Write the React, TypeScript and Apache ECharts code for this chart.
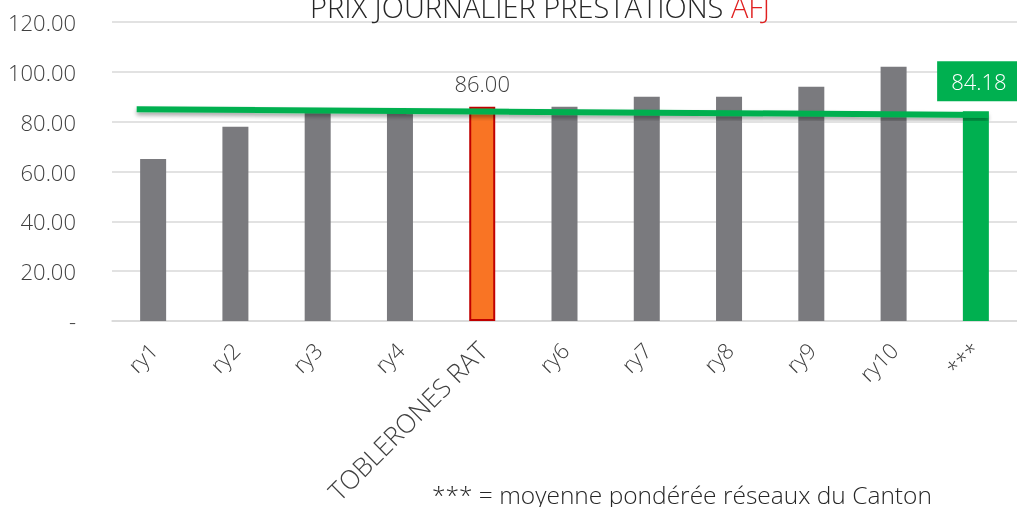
import React, { useEffect, useRef } from "react";
import * as echarts from "echarts";

const categories = ["ry1", "ry2", "ry3", "ry4", "TOBLERONES RAT", "ry6", "ry7", "ry8", "ry9", "ry10", "***"];
const values = [65, 78, 84, 84, 86, 86, 90, 90, 94, 102, 84.18];
const highlightIndex = 4;
const averageIndex = 10;
const trendPoints: [number, number][] = [[-0.2, 85.0], [10.15, 82.7]];
const yTicks = { min: 0, max: 120, interval: 20 };
const titleMain = "PRIX JOURNALIER PRESTATIONS ";
const titleAccent = "AFJ";
const footnote = "*** = moyenne pondérée réseaux du Canton";

const FONT = "'Open Sans', 'Noto Sans', sans-serif";

export default function App() {
  const ref = useRef<HTMLDivElement>(null);
  useEffect(() => {
    if (!ref.current) return;
    const chart = echarts.init(ref.current, undefined, { renderer: "svg" });
    const barData = values.map((v, i) => {
      if (i === highlightIndex) {
        return {
          value: v,
          itemStyle: { color: "#F97424", borderColor: "#C00000", borderWidth: 2 },
          label: {
            show: true,
            position: "top",
            distance: 13,
            formatter: (p: any) => p.value.toFixed(2),
            fontSize: 22,
            color: "#404040",
            fontFamily: FONT,
            fontWeight: 300,
          },
        };
      }
      if (i === averageIndex) {
        return {
          value: v,
          itemStyle: { color: "#00B050" },
          label: {
            show: true,
            position: "top",
            distance: 9,
            offset: [3, -1],
            formatter: (p: any) => p.value.toFixed(2),
            fontSize: 22,
            color: "#ffffff",
            fontFamily: FONT,
            fontWeight: 300,
            backgroundColor: "#00B050",
            padding: [9, 14, 9, 14],
          },
        };
      }
      return { value: v, itemStyle: { color: "#7A7A7E" } };
    });

    chart.setOption({
      animation: false,
      title: {
        text: `{a|${titleMain}}{b|${titleAccent}}`,
        left: 535,
        textAlign: "center",
        top: -13,
        textStyle: {
          rich: {
            a: { fontSize: 29, color: "#262626", fontFamily: FONT, fontWeight: 300 },
            b: { fontSize: 29, color: "#E02020", fontFamily: FONT, fontWeight: 300 },
          },
        },
      },
      graphic: [
        {
          type: "text",
          left: 432,
          top: 482,
          style: {
            text: footnote,
            fontSize: 24.5,
            lineHeight: 24,
            fill: "#262626",
            fontFamily: FONT,
            fontWeight: 300,
          },
        },
      ],
      grid: { left: 112, top: 22, width: 910, height: 299, containLabel: false },
      xAxis: [
        {
          type: "category",
          data: categories,
          axisLine: { show: true, lineStyle: { color: "#D9D9D9", width: 1.5 } },
          axisTick: { show: false },
          axisLabel: {
            rotate: 45,
            interval: 0,
            margin: 25,
            fontSize: 22,
            color: "#404040",
            fontFamily: FONT,
            fontWeight: 300,
            formatter: (v: string) => (v.length > 5 ? `{big|${v}}` : v),
            rich: {
              big: { fontSize: 26, color: "#404040", fontFamily: FONT, fontWeight: 300 },
            },
          },
        },
        { type: "value", min: -0.5, max: 10.5, show: false },
      ],
      yAxis: {
        type: "value",
        min: yTicks.min,
        max: yTicks.max,
        interval: yTicks.interval,
        axisLine: { show: false },
        axisTick: { show: false },
        splitLine: { lineStyle: { color: "#D9D9D9", width: 1.5 } },
        axisLabel: {
          margin: 36,
          fontSize: 22,
          color: "#404040",
          fontFamily: FONT,
          fontWeight: 300,
          formatter: (v: number) => (v === 0 ? "-" : v.toFixed(2)),
        },
      },
      series: [
        {
          type: "bar",
          data: barData,
          barWidth: 26,
          xAxisIndex: 0,
        },
        {
          type: "line",
          xAxisIndex: 1,
          data: trendPoints,
          symbol: "none",
          lineStyle: {
            color: "#00B050",
            width: 6,
            shadowColor: "rgba(0,0,0,0.35)",
            shadowBlur: 4,
            shadowOffsetY: 3,
          },
          z: 5,
        },
      ],
    });
    return () => chart.dispose();
  }, []);
  return <div ref={ref} style={{ position: "fixed", left: 0, top: 0, width: 1017, height: 507 }} />;
}
